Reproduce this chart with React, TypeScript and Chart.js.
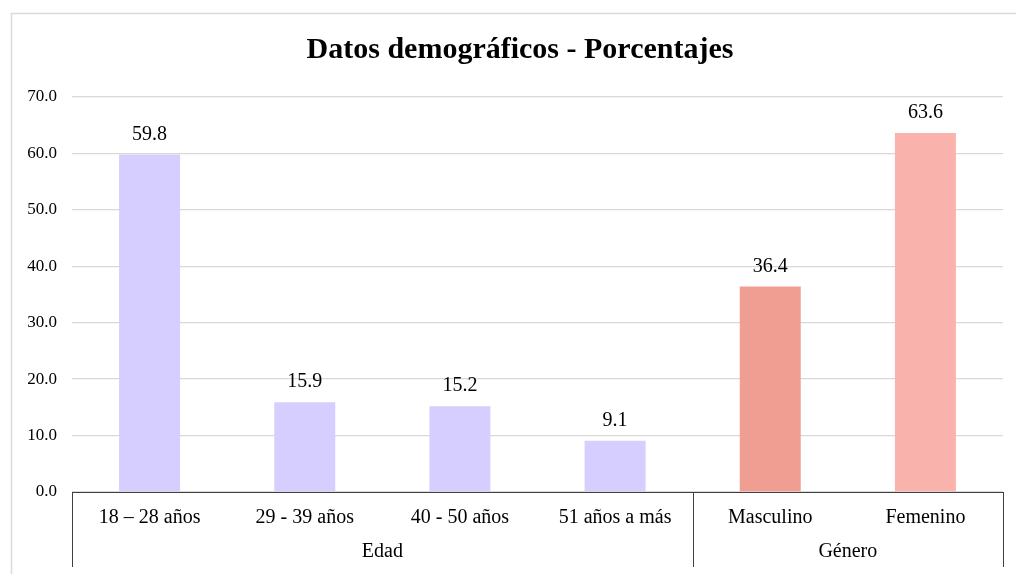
import React, { useEffect, useRef } from "react";
import { Chart, registerables } from "chart.js";

Chart.register(...registerables);

const categories = ["18 – 28 años", "29 - 39 años", "40 - 50 años", "51 años a más", "Masculino", "Femenino"];
const values = [59.8, 15.9, 15.2, 9.1, 36.4, 63.6];
const barColors = ["#D5CEFF", "#D5CEFF", "#D5CEFF", "#D5CEFF", "#F09E91", "#FAB3AC"];
const groups = ["Edad", "Género"];
const groupSizes = [4, 2];
const yTicks = [0, 10, 20, 30, 40, 50, 60, 70];
const title = "Datos demográficos - Porcentajes";

const FONT = '"Liberation Serif", "Times New Roman", serif';

export default function App() {
  const ref = useRef<HTMLCanvasElement | null>(null);

  useEffect(() => {
    if (!ref.current) return;
    const decor = {
      id: "decor",
      beforeDraw(chart: any) {
        const ctx = chart.ctx;
        ctx.save();
        ctx.fillStyle = "#ffffff";
        ctx.fillRect(0, 0, chart.width, chart.height);
        ctx.strokeStyle = "#d9d9d9";
        ctx.lineWidth = 1.5;
        ctx.strokeRect(11.5, 13.5, 1100, 700);
        ctx.restore();
      },
      afterDraw(chart: any) {
        const ctx = chart.ctx;
        const area = chart.chartArea;
        ctx.save();
        // title
        ctx.fillStyle = "#000";
        ctx.font = `bold 30px ${FONT}`;
        ctx.textAlign = "center";
        ctx.textBaseline = "middle";
        ctx.fillText(title, 520, 50);
        // data labels
        const meta = chart.getDatasetMeta(0);
        ctx.font = `20px ${FONT}`;
        ctx.textBaseline = "alphabetic";
        meta.data.forEach((bar: any, i: number) => {
          ctx.fillText(values[i].toFixed(1), bar.x, bar.y - 15);
        });
        // group separators and labels
        ctx.strokeStyle = "#404040";
        ctx.lineWidth = 1;
        const slot = (area.right - area.left) / categories.length;
        let start = 0;
        const bounds: number[] = [area.left];
        groups.forEach((g, gi) => {
          const end = start + groupSizes[gi];
          const x0 = area.left + start * slot;
          const x1 = area.left + end * slot;
          bounds.push(x1);
          ctx.font = `20px ${FONT}`;
          ctx.textAlign = "center";
          ctx.textBaseline = "middle";
          ctx.fillText(g, (x0 + x1) / 2, 552);
          start = end;
        });
        bounds.forEach((bx) => {
          const x = Math.round(bx) + 0.5;
          ctx.beginPath();
          ctx.moveTo(x, area.bottom);
          ctx.lineTo(x, 567);
          ctx.stroke();
        });
        ctx.restore();
      },
    };

    const chart = new Chart(ref.current, {
      type: "bar",
      data: {
        labels: categories,
        datasets: [
          {
            data: values,
            backgroundColor: barColors,
            categoryPercentage: 1,
            barPercentage: 0.393,
          },
        ],
      },
      options: {
        responsive: false,
        animation: false,
        layout: { padding: { left: 0, right: 13, top: 97, bottom: 0 } },
        plugins: { legend: { display: false }, tooltip: { enabled: false }, title: { display: false } },
        scales: {
          x: {
            grid: { display: false, drawTicks: false },
            border: { display: true, color: "#404040", width: 1 },
            ticks: {
              color: "#000",
              font: { family: FONT, size: 20 },
              padding: 14,
              maxRotation: 0,
              autoSkip: false,
            },
            afterFit(scale: any) {
              scale.height = 82;
            },
          },
          y: {
            min: 0,
            max: 70,
            grid: { color: "#d9d9d9", lineWidth: 1.3, drawTicks: false },
            border: { display: false },
            afterBuildTicks(scale: any) {
              scale.ticks = yTicks.map((v) => ({ value: v }));
            },
            ticks: {
              color: "#000",
              font: { family: FONT, size: 17 },
              padding: 15,
              callback: (v: any) => Number(v).toFixed(1),
            },
            afterFit(scale: any) {
              scale.width = 72;
            },
          },
        },
      },
      plugins: [decor],
    });
    return () => chart.destroy();
  }, []);

  return (
    <div style={{ position: "fixed", left: 0, top: 0, width: 1016, height: 574, background: "#fff" }}>
      <canvas ref={ref} width={1016} height={574} />
    </div>
  );
}
